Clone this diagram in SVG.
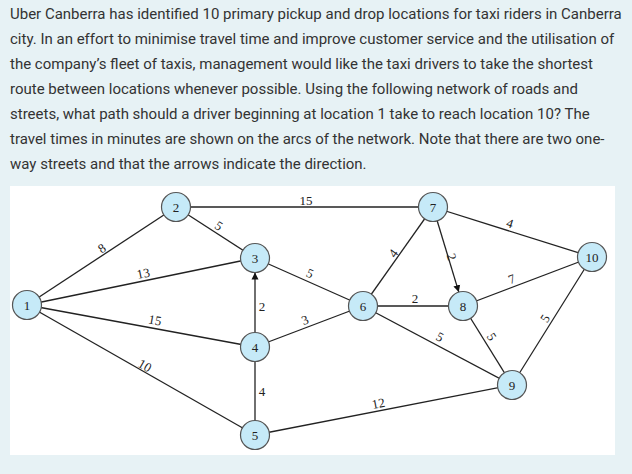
<svg xmlns="http://www.w3.org/2000/svg" width="632" height="474" viewBox="0 0 632 474">
<defs>
<style>
.para{font-family:Roboto,"Liberation Sans",sans-serif;font-size:15px;fill:#333}
.edge{stroke:#222;stroke-width:1.3;fill:none}
.node circle{fill:#c6eaf8;stroke:#555;stroke-width:1.2}
.node text{font-family:"Liberation Serif",serif;font-size:13px;fill:#222;text-anchor:middle}
.lbl{font-family:"Liberation Serif",serif;font-size:13px;fill:#222;text-anchor:middle}
</style>
<marker id="arr" viewBox="0 0 10 10" refX="10" refY="5" markerWidth="7" markerHeight="8" markerUnits="userSpaceOnUse" orient="auto">
<path d="M0,0 L10,5 L0,10 z" fill="#111"/>
</marker>
</defs>
<rect width="632" height="474" fill="#e7f2f5"/>
<g id="question" class="para">
<text x="10" y="19">Uber Canberra has identified 10 primary pickup and drop locations for taxi riders in Canberra</text>
<text x="10" y="44">city. In an effort to minimise travel time and improve customer service and the utilisation of</text>
<text x="10" y="69">the company’s fleet of taxis, management would like the taxi drivers to take the shortest</text>
<text x="10" y="94">route between locations whenever possible. Using the following network of roads and</text>
<text x="10" y="119">streets, what path should a driver beginning at location 1 take to reach location 10? The</text>
<text x="10" y="144">travel times in minutes are shown on the arcs of the network. Note that there are two one-</text>
<text x="10" y="169">way streets and that the arrows indicate the direction.</text>
</g>
<rect x="10" y="186" width="605" height="269" fill="#ffffff"/>
<g id="connectors">
<line class="edge" x1="27" y1="305" x2="176" y2="207"/>
<line class="edge" x1="27" y1="305" x2="255" y2="258"/>
<line class="edge" x1="27" y1="305" x2="255" y2="347"/>
<line class="edge" x1="27" y1="305" x2="255" y2="435"/>
<line class="edge" x1="176" y1="207" x2="255" y2="258"/>
<line class="edge" x1="176" y1="207" x2="433" y2="207"/>
<line class="edge" x1="255" y1="258" x2="363" y2="306"/>
<line class="edge" x1="255" y1="332" x2="255" y2="272.5" marker-end="url(#arr)"/>
<line class="edge" x1="255" y1="347" x2="363" y2="306"/>
<line class="edge" x1="255" y1="347" x2="255" y2="435"/>
<line class="edge" x1="255" y1="435" x2="512" y2="385"/>
<line class="edge" x1="363" y1="306" x2="433" y2="207"/>
<line class="edge" x1="363" y1="306" x2="463" y2="306"/>
<line class="edge" x1="363" y1="306" x2="512" y2="385"/>
<line class="edge" x1="433" y1="207" x2="458.8" y2="292.1" marker-end="url(#arr)"/>
<line class="edge" x1="433" y1="207" x2="592" y2="257"/>
<line class="edge" x1="463" y1="306" x2="592" y2="257"/>
<line class="edge" x1="463" y1="306" x2="512" y2="385"/>
<line class="edge" x1="512" y1="385" x2="592" y2="257"/>
</g>
<g id="edge-labels" class="lbl">
<text transform="translate(101.7,248.3) rotate(-33.3)" y="4.5">8</text>
<text transform="translate(143.3,273.3) rotate(-11.6)" y="4.5">13</text>
<text transform="translate(155,320) rotate(10.4)" y="4.5">15</text>
<text transform="translate(145,365.5) rotate(29.7)" y="4.5">10</text>
<text transform="translate(218.8,225.8) rotate(32.8)" y="4.5">5</text>
<text transform="translate(306,200.7)" y="4.5">15</text>
<text transform="translate(310,273.3) rotate(24)" y="4.5">5</text>
<text transform="translate(262,306.7)" y="4.5">2</text>
<text transform="translate(305,320) rotate(-20.8)" y="4.5">3</text>
<text transform="translate(262,391.7)" y="4.5">4</text>
<text transform="translate(393.3,253.3) rotate(-54.7)" y="4.5">4</text>
<text transform="translate(451.7,256.7) rotate(73)" y="4.5">2</text>
<text transform="translate(415,298.3)" y="4.5">2</text>
<text transform="translate(440,336.7) rotate(27.9)" y="4.5">5</text>
<text transform="translate(491.7,336.7) rotate(58.2)" y="4.5">5</text>
<text transform="translate(545,318.3) rotate(-58)" y="4.5">5</text>
<text transform="translate(378.3,403.3) rotate(-11)" y="4.5">12</text>
<text transform="translate(511.7,279) rotate(-20.8)" y="4.5">7</text>
<text transform="translate(510,223.3) rotate(17.5)" y="4.5">4</text>
</g>
<g id="n1" class="node"><circle cx="27" cy="305" r="14.5"/><text x="27" y="309.5">1</text></g>
<g id="n2" class="node"><circle cx="176" cy="207" r="14.5"/><text x="176" y="211.5">2</text></g>
<g id="n3" class="node"><circle cx="255" cy="258" r="14.5"/><text x="255" y="262.5">3</text></g>
<g id="n4" class="node"><circle cx="255" cy="347" r="14.5"/><text x="255" y="351.5">4</text></g>
<g id="n5" class="node"><circle cx="255" cy="435" r="14.5"/><text x="255" y="439.5">5</text></g>
<g id="n6" class="node"><circle cx="363" cy="306" r="14.5"/><text x="363" y="310.5">6</text></g>
<g id="n7" class="node"><circle cx="433" cy="207" r="14.5"/><text x="433" y="211.5">7</text></g>
<g id="n8" class="node"><circle cx="463" cy="306" r="14.5"/><text x="463" y="310.5">8</text></g>
<g id="n9" class="node"><circle cx="512" cy="385" r="14.5"/><text x="512" y="389.5">9</text></g>
<g id="n10" class="node"><circle cx="592" cy="257" r="14.5"/><text x="592" y="261.5">10</text></g>
</svg>
